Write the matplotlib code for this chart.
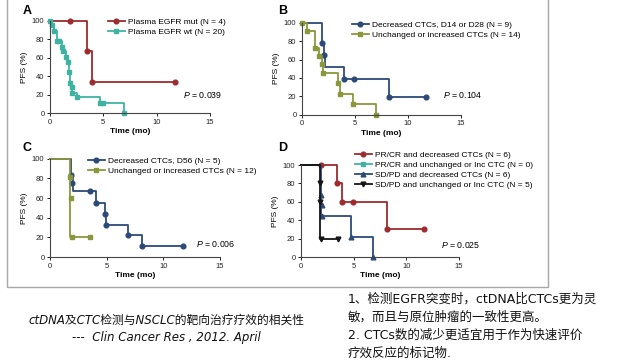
"""
Kaplan-Meier PFS panels (ctDNA / CTC vs NSCLC targeted therapy), recreated.
"""
import matplotlib
matplotlib.use('Agg')
import matplotlib.pyplot as plt
from matplotlib.lines import Line2D
from matplotlib.patches import Rectangle

W, H = 640, 360

# Panel A: plasma EGFR
a_mut_t = [0, 3.5, 3.9, 11.7]
a_mut_s = [100, 66.7, 33.3, 33.3]
a_mut_mt = [1.9, 3.5, 3.9, 11.7]
a_mut_ms = [100, 66.7, 33.3, 33.3]
a_wt_t = [0, 0.16, 0.4, 0.63, 1.1, 1.25, 1.47, 1.66, 1.78, 1.88, 2.03, 2.1, 2.56, 4.7, 6.9]
a_wt_s = [100, 95, 89, 78, 72, 67, 61, 55, 44, 33, 28, 22, 17, 11, 0]
a_wt_mt = [0, 0.16, 0.4, 0.63, 0.8, 1.1, 1.25, 1.47, 1.66, 1.78, 1.88, 2.03, 2.1, 2.56, 4.7, 5.0, 6.9]
a_wt_ms = [100, 95, 89, 78, 78, 72, 67, 61, 55, 44, 33, 28, 22, 17, 11, 11, 0]

# Panel B: CTC change at D14 / D28
b_dec_t = [0, 1.92, 2.1, 2.2, 4.0, 8.2, 11.7]
b_dec_s = [100, 78, 65, 52, 39, 19.5, 19.5]
b_dec_mt = [1.92, 2.1, 4.0, 4.95, 8.2, 11.7]
b_dec_ms = [78, 65, 39, 39, 19.5, 19.5]
b_unc_t = [0, 0.5, 1.23, 1.64, 1.9, 2.0, 3.38, 3.6, 4.8, 7.0]
b_unc_s = [100, 91, 73, 64, 55, 45, 35, 23, 12, 0]
b_unc_mt = b_unc_t
b_unc_ms = b_unc_s

# Panel C: CTC change at D56
c_dec_t = [0, 1.85, 2.0, 4.03, 4.85, 4.95, 6.9, 8.15, 11.7]
c_dec_s = [100, 83, 67, 55, 44, 33, 22, 11, 11]
c_dec_mt = [1.85, 1.95, 3.5, 4.03, 4.85, 4.95, 6.9, 8.15, 11.7]
c_dec_ms = [83, 75, 67, 55, 44, 33, 22, 11, 11]
c_unc_t = [0, 1.8, 3.5]
c_unc_s = [100, 20, 20]
c_unc_mt = [1.8, 1.85, 1.9, 3.5]
c_unc_ms = [81, 60, 20, 20]

# Panel D: response + CTC change
d_pr_t = [0, 3.38, 3.85, 8.2, 11.65]
d_pr_s = [100, 80, 60, 30, 30]
d_pr_mt = [1.9, 3.4, 3.85, 4.95, 8.2, 11.65]
d_pr_ms = [100, 80, 60, 60, 30, 30]
d_sd_t = [0, 1.9, 4.7, 6.85]
d_sd_s = [100, 44.5, 22, 0]
d_sd_mt = [1.9, 1.95, 2.0, 4.7, 6.85]
d_sd_ms = [67, 56, 44.5, 22, 0]
d_sdu_t = [0, 1.8, 3.5]
d_sdu_s = [100, 20, 20]
d_sdu_mt = [1.8, 1.85, 1.9, 3.5]
d_sdu_ms = [80, 60, 20, 20]

RED = '#9e2b2d'
TEAL = '#3fb3a2'
BLUE = '#2c4a78'
OLIVE = '#8a973b'
BLACK = '#151515'

plt.rcParams['font.family'] = ['Liberation Sans', 'DejaVu Sans']
plt.rcParams['mathtext.fontset'] = 'custom'
plt.rcParams['mathtext.it'] = 'Liberation Sans:italic'
plt.rcParams['mathtext.rm'] = 'Liberation Sans'


def px_axes(fig, left, right, top, bottom):
    """Add axes from pixel edges (origin at top-left)."""
    return fig.add_axes([left / W, 1 - bottom / H, (right - left) / W, (bottom - top) / H])


def style_axes(ax):
    ax.set_xlim(0, 15)
    ax.set_ylim(0, 100)
    ax.set_xticks([0, 5, 10, 15])
    ax.set_yticks([0, 20, 40, 60, 80, 100])
    for side in ['top', 'right']:
        ax.spines[side].set_visible(False)
    for side in ['left', 'bottom']:
        ax.spines[side].set_color('#444444')
        ax.spines[side].set_linewidth(0.8)
    ax.tick_params(labelsize=5.5, length=2.5, width=0.7, pad=1.5, colors='#222222')
    ax.set_ylabel('PFS (%)', fontsize=6, labelpad=3)
    ax.set_xlabel('Time (mo)', fontsize=6, fontweight='bold', labelpad=2)


def km(ax, t, s, mt, ms, color, marker, label):
    ax.step(t, s, where='post', color=color, lw=1.3, clip_on=False)
    ax.plot(mt, ms, ls='none', marker=marker, ms=3.4, color=color, clip_on=False)
    return Line2D([], [], color=color, lw=1.3, marker=marker, ms=3.4, label=label)


def add_legend(ax, handles, x, y):
    ax.legend(handles=handles, loc='upper left', bbox_to_anchor=(x / W, 1 - y / H),
              bbox_transform=ax.figure.transFigure, frameon=False, fontsize=6,
              handlelength=2.0, handletextpad=0.4, labelspacing=0.25,
              borderpad=0, borderaxespad=0)


fig = plt.figure(figsize=(6.4, 3.6), dpi=100)
fig.patch.set_facecolor('white')

# outer gray frame
fig.patches.append(Rectangle((7 / W, 1 - 287 / H), 541 / W, 300 / H, transform=fig.transFigure,
                             fill=False, edgecolor='#a8a8a8', lw=1.0))

# A
ax = px_axes(fig, 50, 210, 20.7, 113)
style_axes(ax)
h = [km(ax, a_mut_t, a_mut_s, a_mut_mt, a_mut_ms, RED, 'o', 'Plasma EGFR mut (N = 4)'),
     km(ax, a_wt_t, a_wt_s, a_wt_mt, a_wt_ms, TEAL, 's', 'Plasma EGFR wt (N = 20)')]
add_legend(ax, h, 108, 18)
fig.text(222 / W, 1 - 95 / H, r'$P$ = 0.039', fontsize=6.3, ha='right', va='center')
fig.text(27 / W, 1 - 11 / H, 'A', fontsize=9, fontweight='bold', ha='center', va='center')

# B
ax = px_axes(fig, 302, 461, 22.7, 114.7)
style_axes(ax)
h = [km(ax, b_dec_t, b_dec_s, b_dec_mt, b_dec_ms, BLUE, 'o', 'Decreased CTCs, D14 or D28 (N = 9)'),
     km(ax, b_unc_t, b_unc_s, b_unc_mt, b_unc_ms, OLIVE, 's', 'Unchanged or increased CTCs (N = 14)')]
add_legend(ax, h, 352, 21)
fig.text(482 / W, 1 - 95 / H, r'$P$ = 0.104', fontsize=6.3, ha='right', va='center')
fig.text(283 / W, 1 - 11 / H, 'B', fontsize=9, fontweight='bold', ha='center', va='center')

# C
ax = px_axes(fig, 50, 220, 158.7, 257)
style_axes(ax)
h = [km(ax, c_dec_t, c_dec_s, c_dec_mt, c_dec_ms, BLUE, 'o', 'Decreased CTCs, D56 (N = 5)'),
     km(ax, c_unc_t, c_unc_s, c_unc_mt, c_unc_ms, OLIVE, 's', 'Unchanged or increased CTCs (N = 12)')]
add_legend(ax, h, 88, 157)
fig.text(235 / W, 1 - 244 / H, r'$P$ = 0.006', fontsize=6.3, ha='right', va='center')
fig.text(27 / W, 1 - 148 / H, 'C', fontsize=9, fontweight='bold', ha='center', va='center')

# D
ax = px_axes(fig, 301, 459, 165, 257)
style_axes(ax)
h = [km(ax, d_pr_t, d_pr_s, d_pr_mt, d_pr_ms, RED, 'o', 'PR/CR and decreased CTCs (N = 6)'),
     Line2D([], [], color=TEAL, lw=1.3, marker='s', ms=3.4,
            label='PR/CR and unchanged or Inc CTC (N = 0)'),
     km(ax, d_sd_t, d_sd_s, d_sd_mt, d_sd_ms, BLUE, '^', 'SD/PD and decreased CTCs (N = 6)'),
     km(ax, d_sdu_t, d_sdu_s, d_sdu_mt, d_sdu_ms, BLACK, 'v', 'SD/PD and unchanged or Inc CTC (N = 5)')]
add_legend(ax, h, 355, 151)
fig.text(480 / W, 1 - 245 / H, r'$P$ = 0.025', fontsize=6.3, ha='right', va='center')
fig.text(283 / W, 1 - 148 / H, 'D', fontsize=9, fontweight='bold', ha='center', va='center')

# captions
cap_font = ['DejaVu Sans', 'Noto Sans CJK SC']
fig.text(166 / W, 1 - 320 / H, 'ctDNA及CTC检测与NSCLC的靶向治疗疗效的相关性',
         fontsize=8.5, family=cap_font, style='italic', ha='center', va='center', color='#111111')
fig.text(166 / W, 1 - 337 / H, '---  Clin Cancer Res , 2012. April',
         fontsize=8.5, family=cap_font, style='italic', ha='center', va='center', color='#111111')

notes = ['1、检测EGFR突变时，ctDNA比CTCs更为灵',
         '敏，而且与原位肿瘤的一致性更高。',
         '2. CTCs数的减少更适宜用于作为快速评价',
         '疗效反应的标记物.']
for i, line in enumerate(notes):
    fig.text(348 / W, 1 - (299 + i * 18) / H, line, fontsize=9, family=cap_font,
             ha='left', va='center', color='#111111')

fig.savefig('out.png', dpi=100)
